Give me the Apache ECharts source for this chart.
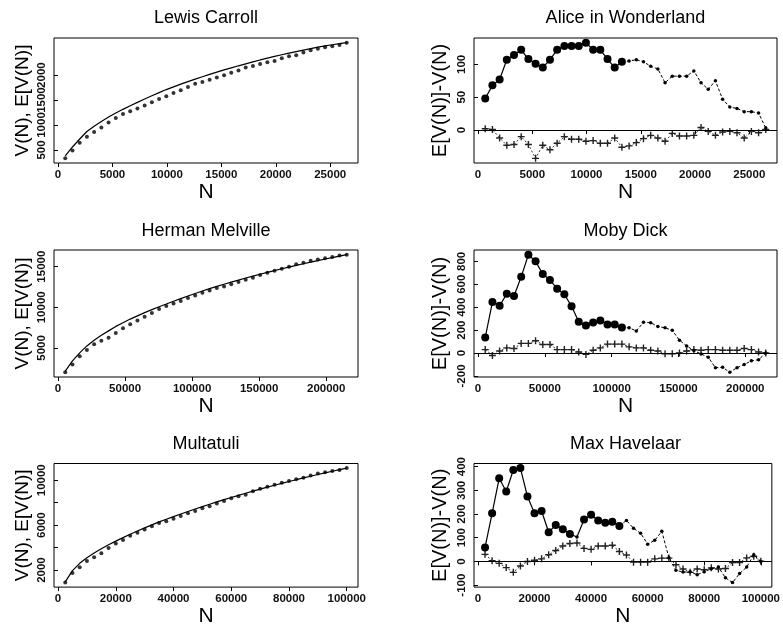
<!DOCTYPE html>
<html><head><meta charset="utf-8">
<script src="https://cdn.jsdelivr.net/npm/echarts@6/dist/echarts.min.js"></script>
<style>html,body{margin:0;padding:0;background:#fff}#c{width:783px;height:628px}</style>
</head><body><div id="c"></div>
<script>
// ---------- data ----------
const aliceN = [663,1326,1989,2652,3315,3978,4641,5304,5967,6630,7293,7956,8619,9282,9945,10608,11271,11934,12597,13260,13923,14586,15249,15912,16575,17238,17901,18564,19227,19890,20553,21216,21879,22542,23205,23868,24531,25194,25857,26520];
const mobyN = [5383,10766,16149,21532,26915,32298,37681,43064,48447,53830,59213,64596,69979,75362,80745,86128,91511,96894,102277,107660,113043,118426,123809,129192,134575,139958,145341,150724,156107,161490,166873,172256,177639,183022,188405,193788,199171,204554,209937,215320];
const havelaarN = [2500,5000,7500,10000,12500,15000,17500,20000,22500,25000,27500,30000,32500,35000,37500,40000,42500,45000,47500,50000,52500,55000,57500,60000,62500,65000,67500,70000,72500,75000,77500,80000,82500,85000,87500,90000,92500,95000,97500,100000];

// E[V(N)] (solid line) and V(N) (dots), left column
const carrollExpected = [380,560,720,870,975,1072,1160,1240,1314,1385,1453,1520,1585,1648,1710,1765,1818,1869,1919,1967,2014,2060,2103,2145,2186,2226,2265,2303,2340,2374,2407,2439,2470,2501,2531,2560,2584,2607,2629,2650];
const carrollObserved = [332,492,643,763,861,950,1052,1139,1219,1278,1331,1392,1457,1520,1577,1643,1696,1761,1824,1863,1909,1953,1999,2048,2093,2154,2183,2221,2258,2284,2335,2377,2395,2454,2496,2527,2556,2579,2603,2647];
const melvilleExpected = [2140,3400,4400,5250,5950,6550,7100,7650,8100,8550,8950,9350,9720,10070,10400,10740,11070,11390,11700,12000,12290,12570,12840,13100,13350,13600,13840,14070,14300,14520,14740,14950,15160,15360,15560,15750,15940,16120,16300,16470];
const melvilleObserved = [2005,2955,3988,4733,5452,5885,6242,6850,7410,7912,8390,8838,9312,9798,10160,10473,10785,11140,11450,11777,12070,12377,12572,12835,13118,13380,13642,13958,14238,14498,14748,14986,15288,15485,15728,15878,16040,16188,16358,16470];
const multatuliExpected = [950,1950,2600,3100,3520,3900,4250,4580,4890,5190,5480,5760,6030,6290,6530,6765,6995,7220,7440,7655,7865,8070,8270,8466,8658,8846,9030,9210,9386,9558,9726,9890,10050,10207,10361,10512,10660,10805,10947,11086];
const multatuliObserved = [891,1747,2249,2805,3134,3506,3976,4377,4677,5067,5326,5624,5914,6187,6353,6568,6822,7057,7272,7505,7692,7930,8151,8393,8569,8719,9014,9247,9431,9602,9782,9934,10081,10231,10430,10601,10711,10829,10919,11086];

// E[V(N)]-V(N) (dots) and comparison series (crosses), right column
const aliceDiff = [48,68,77,107,114,122,108,101,95,107,122,128,128,128,133,122,122,108,95,104,105,107,104,97,93,72,82,82,82,90,72,62,75,47,35,33,28,28,26,3];
const aliceCross = [2,1,-12,-23,-22,-10,-22,-43,-23,-30,-20,-10,-14,-14,-17,-16,-20,-20,-12,-26,-24,-19,-13,-8,-12,-17,-5,-9,-9,-8,4,-2,-8,-3,-2,-4,-12,-2,-4,1];
const mobyDiff = [135,445,412,517,498,665,858,800,690,638,560,512,408,272,240,267,285,250,250,223,220,193,268,265,232,220,198,112,62,22,-8,-36,-128,-125,-168,-128,-100,-68,-58,0];
const mobyCross = [30,-21,18,45,39,84,84,107,75,75,30,30,30,9,-12,24,45,78,78,78,54,45,45,24,18,-6,-6,0,18,30,24,30,30,24,24,24,39,30,9,0];
const havelaarDiff = [59,203,351,295,386,394,274,203,213,123,154,136,116,103,177,197,173,163,168,150,173,140,119,73,89,127,16,-37,-45,-44,-56,-44,-31,-24,-69,-89,-51,-24,28,0];
const havelaarCross = [30,3,-8,-26,-46,-19,0,5,11,28,46,65,76,78,55,51,65,65,68,42,27,-3,-3,-3,11,14,14,-14,-32,-46,-32,-35,-27,-32,-30,-5,-5,15,22,1];
// points of the first half drawn with a small marker (1-based)
const aliceSmall = [];
const mobySmall = [];
const havelaarSmall = [14];

// tick values
const xTicksAlice = [0,5000,10000,15000,20000,25000];
const xTicksMoby = [0,50000,100000,150000,200000];
const xTicksHavelaar = [0,20000,40000,60000,80000,100000];
const yTicksCarroll = [500,1000,1500,2000,2500];
const yTicksMelville = [5000,10000,15000];
const yTicksMultatuli = [2000,4000,6000,8000,10000];
const yLabelsMultatuli = [2000,6000,10000];
const yTicksAlice = [0,50,100];
const yTicksMoby = [-200,0,200,400,600,800];
const yTicksHavelaar = [-100,0,100,200,300,400];

// ---------- layout ----------
const FONT = '"Liberation Sans", Arial, Helvetica, sans-serif';
const colL = [54, 304], colR = [474, 303];
const rows = [[38,125,18.5],[250,127,231],[463.5,129,444]];

const panels = [
  {kind:'growth', title:'Lewis Carroll', col:colL, row:rows[0], N:aliceN, a:carrollExpected, b:carrollObserved, xt:xTicksAlice, yt:yTicksCarroll, yl:yTicksCarroll, yName:'V(N), E[V(N)]'},
  {kind:'diff', title:'Alice in Wonderland', col:colR, row:rows[0], N:aliceN, a:aliceDiff, b:aliceCross, small:aliceSmall, xt:xTicksAlice, yt:yTicksAlice, yl:yTicksAlice, yName:'E[V(N)]-V(N)'},
  {kind:'growth', title:'Herman Melville', col:colL, row:rows[1], N:mobyN, a:melvilleExpected, b:melvilleObserved, xt:xTicksMoby, yt:yTicksMelville, yl:yTicksMelville, yName:'V(N), E[V(N)]'},
  {kind:'diff', title:'Moby Dick', col:colR, row:rows[1], N:mobyN, a:mobyDiff, b:mobyCross, small:mobySmall, xt:xTicksMoby, yt:yTicksMoby, yl:yTicksMoby, yName:'E[V(N)]-V(N)'},
  {kind:'growth', title:'Multatuli', col:colL, row:rows[2], N:havelaarN, a:multatuliExpected, b:multatuliObserved, xt:xTicksHavelaar, yt:yTicksMultatuli, yl:yLabelsMultatuli, yName:'V(N), E[V(N)]'},
  {kind:'diff', title:'Max Havelaar', col:colR, row:rows[2], N:havelaarN, a:havelaarDiff, b:havelaarCross, small:havelaarSmall, xt:xTicksHavelaar, yt:yTicksHavelaar, yl:yTicksHavelaar, yName:'E[V(N)]-V(N)'}
];

function rng(arrs){
  let mn=Infinity, mx=-Infinity;
  arrs.forEach(a=>a.forEach(v=>{ if(v<mn) mn=v; if(v>mx) mx=v; }));
  const r = mx-mn; return [mn-0.04*r, mx+0.04*r];
}
const plain = v => String(Math.round(v));
const PLUS = 'path://M4,0H6V4H10V6H6V10H4V6H0V4H4Z';
const grids=[], xAxes=[], yAxes=[], series=[], graphics=[];
const tickLab = {fontSize:11.5, fontWeight:'bold', color:'#111', fontFamily:FONT, formatter:plain};

panels.forEach((p,i)=>{
  grids.push({left:p.col[0], top:p.row[0], width:p.col[1], height:p.row[1], show:true, borderColor:'#000', borderWidth:1, backgroundColor:'transparent', containLabel:false});
  const xr = rng([p.N]);
  const yr = rng([p.a, p.b]);
  xAxes.push({type:'value', gridIndex:i, min:xr[0], max:xr[1],
    axisLine:{show:false}, splitLine:{show:false},
    axisTick:{show:true, length:4, customValues:p.xt, lineStyle:{color:'#000', width:1}},
    axisLabel:Object.assign({customValues:p.xt, margin:6}, tickLab),
    name:'N', nameLocation:'middle', nameGap:13, nameTextStyle:{fontSize:21, color:'#000', fontFamily:FONT}});
  yAxes.push({type:'value', gridIndex:i, min:yr[0], max:yr[1],
    axisLine:{show:false}, splitLine:{show:false},
    axisTick:{show:true, length:4, customValues:p.yt, lineStyle:{color:'#000', width:1}},
    axisLabel:Object.assign({customValues:p.yl, rotate:90, margin:6}, tickLab),
    name:p.yName, nameLocation:'middle', nameGap:(p.kind==='growth'?22:24), nameRotate:90,
    nameTextStyle:{fontSize:(p.kind==='growth'?19:20), color:'#000', fontFamily:FONT}});
  graphics.push({type:'text', x:p.col[0]+p.col[1]/2, y:p.row[2],
    style:{text:p.title, fontSize:18, fontFamily:FONT, fill:'#000', align:'center', verticalAlign:'middle', textAlign:'center', textVerticalAlign:'middle'}});

  if (p.kind==='growth'){
    series.push({type:'line', xAxisIndex:i, yAxisIndex:i, data:p.N.map((n,k)=>[n,p.a[k]]),
      symbol:'none', showSymbol:false, lineStyle:{color:'#000', width:1.2}, silent:true, z:2});
    series.push({type:'scatter', xAxisIndex:i, yAxisIndex:i, data:p.N.map((n,k)=>[n,p.b[k]]),
      symbol:'circle', symbolSize:4, itemStyle:{color:'#000'}, silent:true, z:3});
  } else {
    series.push({type:'line', xAxisIndex:i, yAxisIndex:i, data:p.N.map((n,k)=>[n,p.b[k]]),
      symbol:PLUS, symbolSize:7, showSymbol:true, symbolKeepAspect:true,
      itemStyle:{color:'#222'}, lineStyle:{color:'#333', width:1, type:[2,2]}, silent:true, z:2,
      markLine:{silent:true, symbol:['none','none'], label:{show:false}, animation:false,
        lineStyle:{color:'#000', type:'solid', width:1.2}, data:[{yAxis:0}]}});
    const half = p.N.length/2;
    series.push({type:'line', xAxisIndex:i, yAxisIndex:i,
      data:p.N.map((n,k)=>[n,p.a[k]]).slice(half-1),
      symbol:'circle', symbolSize:3.5, showSymbol:true, itemStyle:{color:'#000'},
      lineStyle:{color:'#000', width:1, type:[3,2]}, silent:true, z:3});
    series.push({type:'line', xAxisIndex:i, yAxisIndex:i,
      data:p.N.slice(0,half).map((n,k)=>({value:[n,p.a[k]], symbolSize:(p.small.indexOf(k+1)>=0?3.5:8)})),
      symbol:'circle', showSymbol:true, itemStyle:{color:'#000'},
      lineStyle:{color:'#000', width:1.2}, silent:true, z:4});
  }
});

const chart = echarts.init(document.getElementById('c'), null, {renderer:'canvas'});
chart.setOption({animation:false, backgroundColor:'#fff', grid:grids, xAxis:xAxes, yAxis:yAxes, series:series, graphic:graphics});
</script>
</body></html>
